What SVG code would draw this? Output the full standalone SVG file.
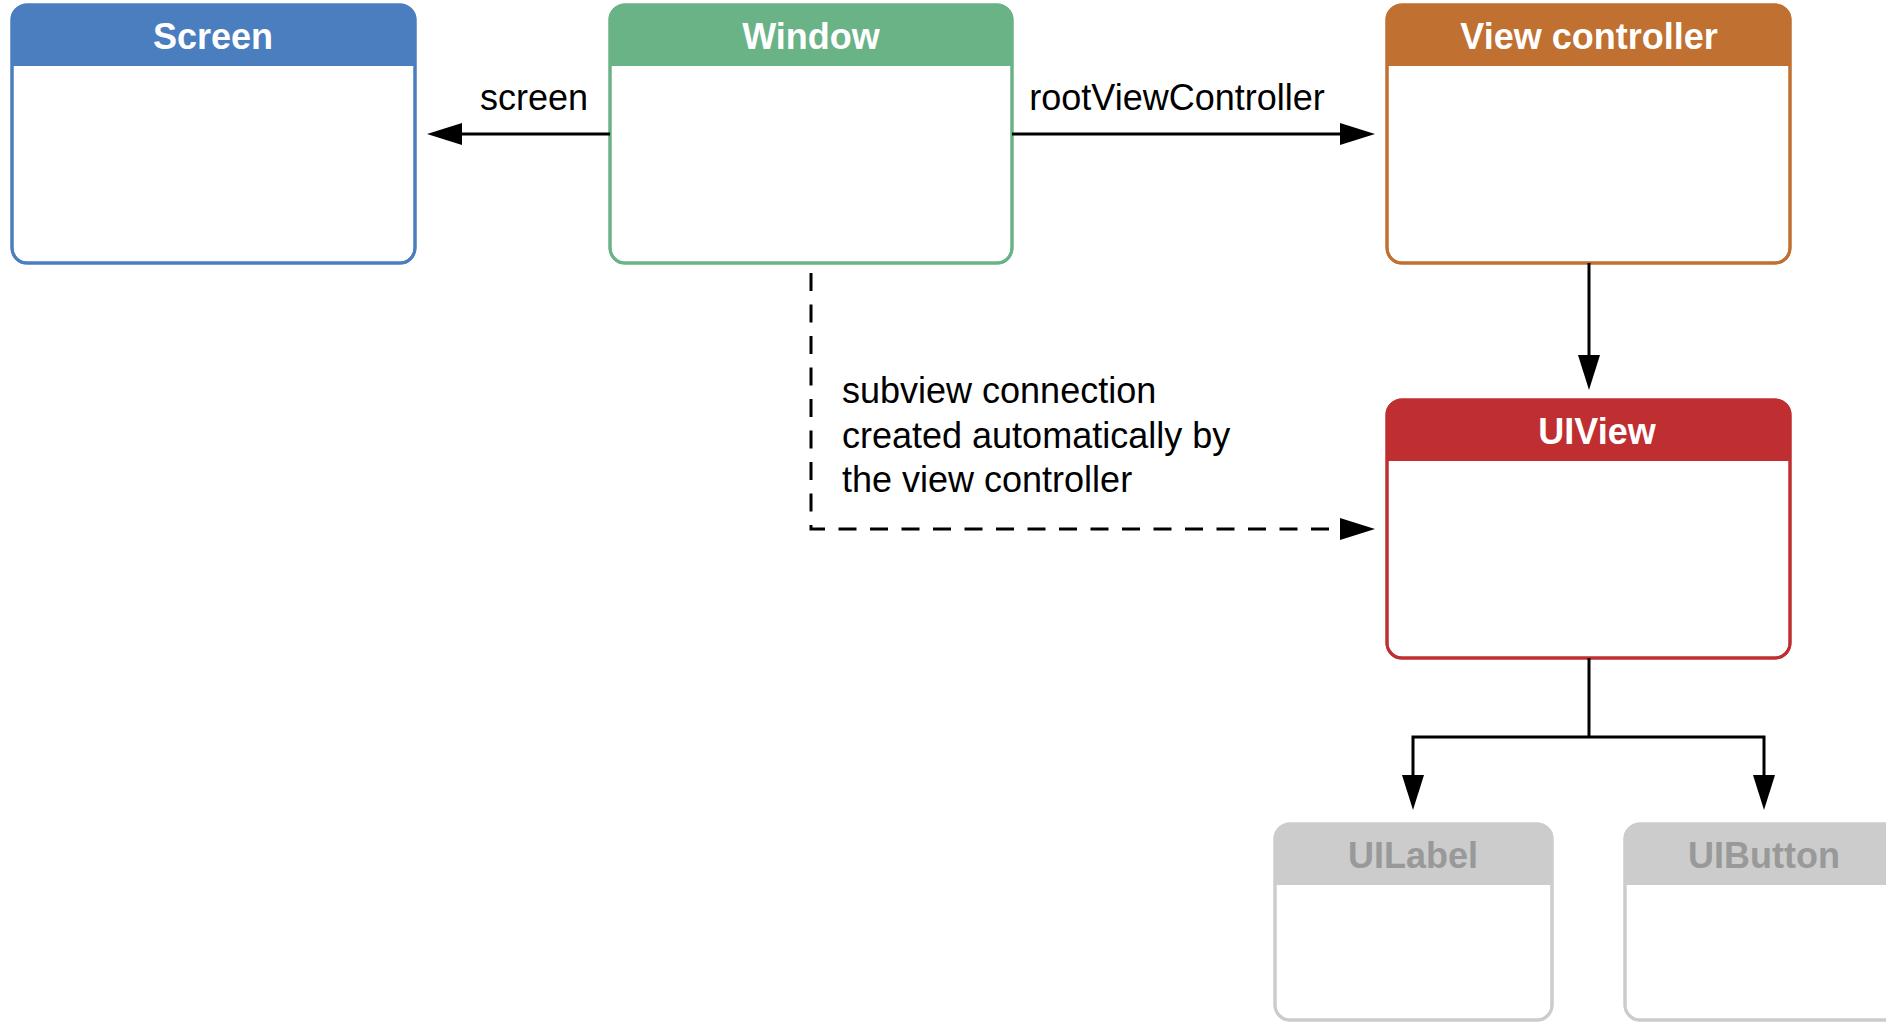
<svg xmlns="http://www.w3.org/2000/svg" width="1886" height="1022" viewBox="0 0 1886 1022">
<style>
.box{fill:#fff;stroke-width:3}
.title{font-family:"Liberation Sans",Arial,Helvetica,sans-serif;font-weight:bold;font-size:36px;fill:#fff;text-anchor:middle}
.lbl{font-family:"Liberation Sans",Arial,Helvetica,sans-serif;font-size:36px;fill:#000}
.conn{fill:none;stroke:#000;stroke-width:3}
.dash{stroke-dasharray:18 13.5}
</style>
<defs>
<marker id="ah" markerUnits="userSpaceOnUse" markerWidth="35" markerHeight="22" refX="0" refY="11" orient="auto" overflow="visible">
<path d="M0,0 L35,11 L0,22 Z" fill="#000"/>
</marker>
</defs>
<rect width="1886" height="1022" fill="#fff"/>

<g id="screen">
<rect class="box" x="12" y="5" width="403" height="258" rx="15" stroke="#4a7ebf"/>
<path d="M12,66 V20 A15,15 0 0 1 27,5 H400 A15,15 0 0 1 415,20 V66 Z" fill="#4a7ebf"/>
<rect x="12" y="5" width="403" height="258" rx="15" fill="none" stroke="#4a7ebf" stroke-width="3"/>
<text class="title" x="213" y="49">Screen</text>
</g>

<g id="window">
<rect class="box" x="610" y="5" width="402" height="258" rx="15" stroke="#6ab387"/>
<path d="M610,66 V20 A15,15 0 0 1 625,5 H997 A15,15 0 0 1 1012,20 V66 Z" fill="#6ab387"/>
<rect x="610" y="5" width="402" height="258" rx="15" fill="none" stroke="#6ab387" stroke-width="3"/>
<text class="title" x="811" y="49">Window</text>
</g>

<g id="viewcontroller">
<rect class="box" x="1387" y="5" width="403" height="258" rx="15" stroke="#c07030"/>
<path d="M1387,66 V20 A15,15 0 0 1 1402,5 H1775 A15,15 0 0 1 1790,20 V66 Z" fill="#c07030"/>
<rect x="1387" y="5" width="403" height="258" rx="15" fill="none" stroke="#c07030" stroke-width="3"/>
<text class="title" x="1589" y="49">View controller</text>
</g>

<g id="uiview">
<rect class="box" x="1387" y="400" width="403" height="258" rx="15" stroke="#bf2e30"/>
<path d="M1387,461 V415 A15,15 0 0 1 1402,400 H1775 A15,15 0 0 1 1790,415 V461 Z" fill="#bf2e30"/>
<rect x="1387" y="400" width="403" height="258" rx="15" fill="none" stroke="#bf2e30" stroke-width="3"/>
<text class="title" x="1597" y="444">UIView</text>
</g>

<g id="uilabel">
<rect class="box" x="1275" y="824" width="277" height="196" rx="15" stroke="#cccccc"/>
<path d="M1275,885 V839 A15,15 0 0 1 1290,824 H1537 A15,15 0 0 1 1552,839 V885 Z" fill="#cccccc"/>
<rect x="1275" y="824" width="277" height="196" rx="15" fill="none" stroke="#cccccc" stroke-width="3"/>
<text class="title" x="1413" y="868" style="fill:#999">UILabel</text>
</g>

<g id="uibutton">
<rect class="box" x="1625" y="824" width="278" height="196" rx="15" stroke="#cccccc"/>
<path d="M1625,885 V839 A15,15 0 0 1 1640,824 H1888 A15,15 0 0 1 1903,839 V885 Z" fill="#cccccc"/>
<rect x="1625" y="824" width="278" height="196" rx="15" fill="none" stroke="#cccccc" stroke-width="3"/>
<text class="title" x="1764" y="868" style="fill:#999">UIButton</text>
</g>

<g id="connectors">
<path class="conn" d="M610,134 H462" marker-end="url(#ah)"/>
<text class="lbl" x="534" y="110" text-anchor="middle">screen</text>
<path class="conn" d="M1012,134 H1340" marker-end="url(#ah)"/>
<text class="lbl" x="1177" y="110" text-anchor="middle">rootViewController</text>
<path class="conn" d="M1589,263 V355" marker-end="url(#ah)"/>
<path class="conn dash" d="M811,273 V529 H1340" marker-end="url(#ah)"/>
<text class="lbl" x="842" y="403">subview connection</text>
<text class="lbl" x="842" y="448">created automatically by</text>
<text class="lbl" x="842" y="492">the view controller</text>
<path class="conn" d="M1589,658 V737"/>
<path class="conn" d="M1589,737 H1413 V775" marker-end="url(#ah)"/>
<path class="conn" d="M1589,737 H1764 V775" marker-end="url(#ah)"/>
</g>
</svg>
